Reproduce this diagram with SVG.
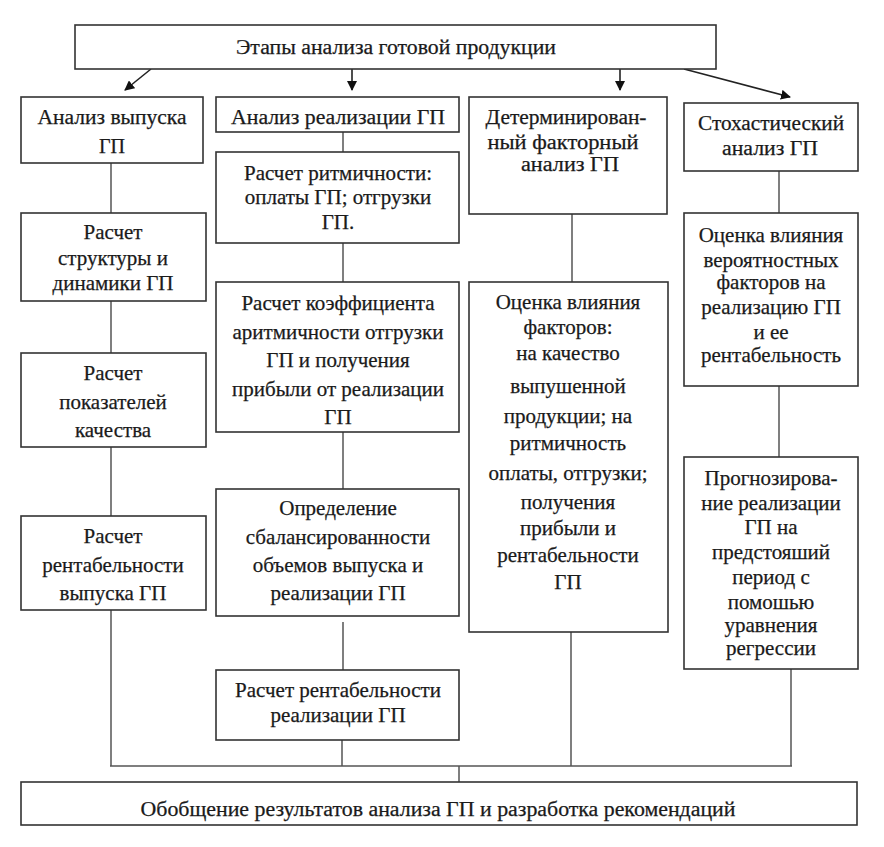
<svg xmlns="http://www.w3.org/2000/svg" width="884" height="847" viewBox="0 0 884 847" font-family="'Liberation Serif', 'DejaVu Serif', serif">
<defs>
<style>
.box{fill:#fff;stroke:#333;stroke-width:1.6}
.ln{fill:none;stroke:#555;stroke-width:1.5}
.ar{fill:none;stroke:#222;stroke-width:1.6}
text{font-family:'Liberation Serif','DejaVu Serif',serif;fill:#1a1a1a;text-anchor:middle;stroke:#1a1a1a;stroke-width:0.25}
.t{font-size:21px}
.c{font-size:20px}
</style>
<marker id="ah" viewBox="0 0 10 10" refX="9" refY="5" markerWidth="10" markerHeight="10" markerUnits="userSpaceOnUse" orient="auto">
<path d="M0,0 L10,5 L0,10 z" fill="#111"/>
</marker>
</defs>
<rect width="884" height="847" fill="#fff"/>
<g id="connectors">
<line class="ar" x1="151" y1="69" x2="125" y2="90" marker-end="url(#ah)"/>
<line class="ar" x1="352" y1="69" x2="352" y2="90" marker-end="url(#ah)"/>
<line class="ar" x1="620" y1="69" x2="620" y2="90" marker-end="url(#ah)"/>
<line class="ar" x1="684" y1="69" x2="790" y2="97" marker-end="url(#ah)"/>
<line class="ln" x1="111" y1="163" x2="111" y2="213"/>
<line class="ln" x1="111" y1="301" x2="111" y2="353"/>
<line class="ln" x1="111" y1="447" x2="111" y2="516"/>
<line class="ln" x1="111" y1="610" x2="111" y2="766"/>
<line class="ln" x1="343" y1="132" x2="343" y2="152"/>
<line class="ln" x1="343" y1="243" x2="343" y2="282"/>
<line class="ln" x1="343" y1="432" x2="343" y2="489"/>
<line class="ln" x1="343" y1="622" x2="343" y2="670"/>
<line class="ln" x1="342" y1="740" x2="342" y2="766"/>
<line class="ln" x1="572" y1="214" x2="572" y2="282"/>
<line class="ln" x1="571" y1="632" x2="571" y2="766"/>
<line class="ln" x1="779" y1="171" x2="779" y2="213"/>
<line class="ln" x1="779" y1="386" x2="779" y2="457"/>
<line class="ln" x1="791" y1="669" x2="791" y2="766"/>
<line class="ln" x1="110" y1="766" x2="792" y2="766"/>
<line class="ln" x1="459" y1="766" x2="459" y2="782"/>
</g>
<g id="n_top">
<rect class="box" x="75" y="25" width="641" height="44"/>
<text class="c" x="396" y="54" textLength="320" lengthAdjust="spacingAndGlyphs">Этапы анализа готовой продукции</text>
</g>
<g id="n_vypusk">
<rect class="box" x="21" y="97" width="182" height="66"/>
<text class="c" x="112" y="124" textLength="149" lengthAdjust="spacingAndGlyphs">Анализ выпуска</text>
<text class="c" x="112" y="153">ГП</text>
</g>
<g id="n_realiz">
<rect class="box" x="216" y="97" width="243" height="35"/>
<text class="c" x="338" y="124" textLength="214" lengthAdjust="spacingAndGlyphs">Анализ реализации ГП</text>
</g>
<g id="n_determ">
<rect class="box" x="469" y="97" width="198" height="117"/>
<text class="c" x="566" y="124" textLength="161" lengthAdjust="spacingAndGlyphs">Детерминирован-</text>
<text class="c" x="563" y="149" textLength="151" lengthAdjust="spacingAndGlyphs">ный факторный</text>
<text class="c" x="570" y="171" textLength="98" lengthAdjust="spacingAndGlyphs">анализ ГП</text>
</g>
<g id="n_stoch">
<rect class="box" x="684" y="103" width="174" height="68"/>
<text class="c" x="771" y="130" textLength="146" lengthAdjust="spacingAndGlyphs">Стохастический</text>
<text class="c" x="770" y="155" textLength="96" lengthAdjust="spacingAndGlyphs">анализ ГП</text>
</g>
<g id="n_struct">
<rect class="box" x="21" y="213" width="185" height="88"/>
<text class="t" x="113" y="239">Расчет</text>
<text class="t" x="113" y="265">структуры и</text>
<text class="t" x="113" y="290">динамики ГП</text>
</g>
<g id="n_kach">
<rect class="box" x="21" y="353" width="185" height="94"/>
<text class="t" x="113" y="380">Расчет</text>
<text class="t" x="113" y="409">показателей</text>
<text class="t" x="113" y="437">качества</text>
</g>
<g id="n_rent_vyp">
<rect class="box" x="21" y="516" width="185" height="94"/>
<text class="t" x="113" y="543">Расчет</text>
<text class="t" x="113" y="572">рентабельности</text>
<text class="t" x="113" y="600">выпуска ГП</text>
</g>
<g id="n_ritm">
<rect class="box" x="216" y="152" width="243" height="91"/>
<text class="t" x="338" y="180">Расчет ритмичности:</text>
<text class="t" x="338" y="204">оплаты ГП; отгрузки</text>
<text class="t" x="338" y="229">ГП.</text>
</g>
<g id="n_koef">
<rect class="box" x="216" y="282" width="243" height="150"/>
<text class="t" x="338" y="310">Расчет коэффициента</text>
<text class="t" x="338" y="339">аритмичности отгрузки</text>
<text class="t" x="338" y="367">ГП и получения</text>
<text class="t" x="338" y="396">прибыли от реализации</text>
<text class="t" x="338" y="424">ГП</text>
</g>
<g id="n_balans">
<rect class="box" x="216" y="489" width="243" height="127"/>
<text class="t" x="338" y="515">Определение</text>
<text class="t" x="338" y="544">сбалансированности</text>
<text class="t" x="338" y="572">объемов выпуска и</text>
<text class="t" x="338" y="600">реализации ГП</text>
</g>
<g id="n_rent_real">
<rect class="box" x="216" y="670" width="243" height="70"/>
<text class="t" x="338" y="697">Расчет рентабельности</text>
<text class="t" x="338" y="722">реализации  ГП</text>
</g>
<g id="n_ocenka">
<rect class="box" x="469" y="282" width="199" height="350"/>
<text class="t" x="568" y="309">Оценка влияния</text>
<text class="t" x="568" y="334">факторов:</text>
<text class="t" x="568" y="360">на качество</text>
<text class="t" x="568" y="393">выпушенной</text>
<text class="t" x="568" y="423">продукции; на</text>
<text class="t" x="568" y="450">ритмичность</text>
<text class="t" x="568" y="480">оплаты, отгрузки;</text>
<text class="t" x="568" y="509">получения</text>
<text class="t" x="568" y="535">прибыли и</text>
<text class="t" x="568" y="562">рентабельности</text>
<text class="t" x="568" y="589">ГП</text>
</g>
<g id="n_veroyat">
<rect class="box" x="684" y="213" width="174" height="173"/>
<text class="t" x="771" y="242">Оценка влияния</text>
<text class="t" x="771" y="267">вероятностных</text>
<text class="t" x="771" y="289">факторов на</text>
<text class="t" x="771" y="314">реализацию ГП</text>
<text class="t" x="771" y="339">и ее</text>
<text class="t" x="771" y="362">рентабельность</text>
</g>
<g id="n_prognoz">
<rect class="box" x="684" y="457" width="174" height="212"/>
<text class="t" x="771" y="485">Прогнозирова-</text>
<text class="t" x="771" y="510">ние реализации</text>
<text class="t" x="771" y="534">ГП на</text>
<text class="t" x="771" y="559">предстояший</text>
<text class="t" x="771" y="584">период с</text>
<text class="t" x="771" y="609">помошью</text>
<text class="t" x="771" y="632">уравнения</text>
<text class="t" x="771" y="655">регрессии</text>
</g>
<g id="n_itog">
<rect class="box" x="21" y="782" width="836" height="43"/>
<text class="c" x="438" y="816" textLength="595" lengthAdjust="spacingAndGlyphs">Обобщение результатов анализа ГП и разработка рекомендаций</text>
</g>
</svg>
